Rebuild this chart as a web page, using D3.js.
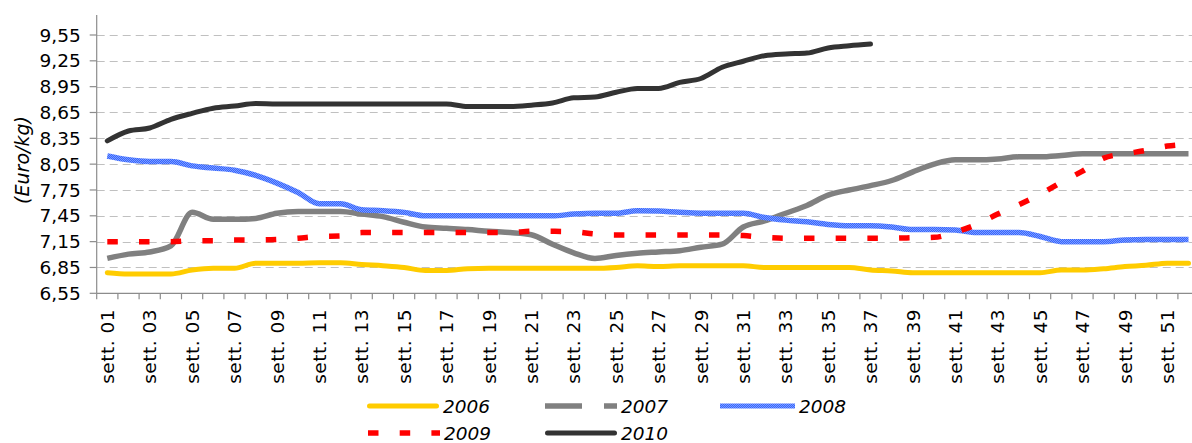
<!DOCTYPE html>
<html><head><meta charset="utf-8">
<script src="https://cdn.jsdelivr.net/npm/d3@7"></script>
<style>body{margin:0;background:#fff;overflow:hidden}svg{display:block}</style>
</head><body><svg id="c" width="1192" height="443"></svg>
<script>
const weeks = ["sett. 01","sett. 02","sett. 03","sett. 04","sett. 05","sett. 06","sett. 07","sett. 08","sett. 09","sett. 10",
"sett. 11","sett. 12","sett. 13","sett. 14","sett. 15","sett. 16","sett. 17","sett. 18","sett. 19","sett. 20",
"sett. 21","sett. 22","sett. 23","sett. 24","sett. 25","sett. 26","sett. 27","sett. 28","sett. 29","sett. 30",
"sett. 31","sett. 32","sett. 33","sett. 34","sett. 35","sett. 36","sett. 37","sett. 38","sett. 39","sett. 40",
"sett. 41","sett. 42","sett. 43","sett. 44","sett. 45","sett. 46","sett. 47","sett. 48","sett. 49","sett. 50",
"sett. 51","sett. 52"];
const labelWeeks = ["sett. 01","sett. 03","sett. 05","sett. 07","sett. 09","sett. 11","sett. 13","sett. 15","sett. 17","sett. 19",
"sett. 21","sett. 23","sett. 25","sett. 27","sett. 29","sett. 31","sett. 33","sett. 35","sett. 37","sett. 39",
"sett. 41","sett. 43","sett. 45","sett. 47","sett. 49","sett. 51"];
const yTicks = [6.55, 6.85, 7.15, 7.45, 7.75, 8.05, 8.35, 8.65, 8.95, 9.25, 9.55];
const yTickLabels = ["6,55","6,85","7,15","7,45","7,75","8,05","8,35","8,65","8,95","9,25","9,55"];
const yTitle = "(Euro/kg)";

const v2006 = [6.79,6.775,6.775,6.775,6.82,6.84,6.84,6.90,6.90,6.90,
6.905,6.905,6.885,6.87,6.85,6.815,6.815,6.835,6.84,6.84,6.84,6.84,6.84,6.84,
6.85,6.87,6.86,6.87,6.87,6.87,6.87,6.85,6.85,6.85,6.85,6.85,6.82,6.81,
6.79,6.79,6.79,6.79,6.79,6.79,6.79,6.82,6.82,6.835,6.86,6.875,6.90,6.90];
const v2007 = [6.955,7.005,7.03,7.10,7.49,7.41,7.41,7.42,7.48,7.50,
7.50,7.50,7.47,7.44,7.375,7.32,7.305,7.29,7.27,7.255,7.23,7.12,7.02,6.955,
6.99,7.015,7.03,7.045,7.085,7.12,7.32,7.39,7.48,7.57,7.69,7.75,7.80,7.86,
7.96,8.05,8.10,8.10,8.11,8.135,8.135,8.15,8.17,8.17,8.17,8.17,8.17,8.17];
const v2008 = [8.145,8.10,8.08,8.08,8.03,8.005,7.98,7.92,7.83,7.72,
7.59,7.59,7.52,7.51,7.49,7.45,7.45,7.45,7.45,7.45,7.45,7.45,7.47,7.48,
7.48,7.51,7.505,7.49,7.48,7.48,7.48,7.43,7.40,7.38,7.35,7.335,7.335,7.32,
7.29,7.29,7.285,7.255,7.255,7.255,7.21,7.15,7.15,7.15,7.17,7.175,7.175,7.175];
const v2009 = [7.15,7.15,7.15,7.15,7.16,7.16,7.17,7.17,7.175,7.19,
7.21,7.215,7.255,7.255,7.255,7.255,7.255,7.255,7.255,7.255,7.27,7.27,7.265,7.24,
7.227,7.227,7.227,7.227,7.227,7.227,7.22,7.20,7.19,7.19,7.19,7.19,7.19,7.19,
7.195,7.20,7.26,7.35,7.47,7.58,7.70,7.84,7.97,8.12,8.17,8.21,8.26,8.28];
const v2010 = [8.32,8.435,8.47,8.57,8.64,8.70,8.725,8.755,8.75,8.75,
8.75,8.75,8.75,8.75,8.75,8.75,8.75,8.72,8.72,8.72,8.735,8.76,8.82,8.83,
8.885,8.93,8.93,9.00,9.045,9.175,9.245,9.31,9.33,9.34,9.40,9.425,9.445,
null,null,null,null,null,null,null,null,null,null,null,null,null,null,null];

const seriesNames = ["2006","2007","2008","2009","2010"];
const seriesValues = [v2006, v2007, v2008, v2009, v2010];

const svg = d3.select("#c");
const defs = svg.append("defs");
const pat = defs.append("pattern").attr("id","chk").attr("width",2).attr("height",2).attr("patternUnits","userSpaceOnUse");
pat.append("rect").attr("width",2).attr("height",2).attr("fill","#3366ff");
pat.append("rect").attr("width",1).attr("height",1).attr("fill","#7f9cff");
pat.append("rect").attr("x",1).attr("y",1).attr("width",1).attr("height",1).attr("fill","#7f9cff");

const styles = {
  "2006": {stroke:"#FFCC00", width:5, cap:"round", dash:null, legendDash:null},
  "2007": {stroke:"#808080", width:5.5, cap:"butt", dash:null, legendDash:"37,22"},
  "2008": {stroke:"url(#chk)", width:5.5, cap:"butt", dash:null, legendDash:null},
  "2009": {stroke:"#FF0000", width:5.5, cap:"butt", dash:"10.5,21.2", legendDash:"10.5,21.2"},
  "2010": {stroke:"#333333", width:5, cap:"round", dash:null, legendDash:null}
};

const left = 96.7, bw = 21.2;
const x = d3.scaleBand().domain(weeks).range([left, left + bw*weeks.length]).paddingInner(0).paddingOuter(0);
const y = d3.scaleLinear().domain([6.55, 9.55]).range([293.3, 35]);
const plotTop = 15;
const font = "'DejaVu Sans', Verdana, sans-serif";

// gridlines
svg.append("g").selectAll("line").data(yTicks.slice(1)).join("line")
  .attr("x1", left).attr("x2", left + bw*weeks.length)
  .attr("y1", d => Math.round(y(d))+0.5).attr("y2", d => Math.round(y(d))+0.5)
  .attr("stroke","#c0c0c0").attr("stroke-width",1).attr("stroke-dasharray","8,5");

// axes
const ax = svg.append("g").attr("stroke","#8c8c8c").attr("stroke-width",1.2);
ax.append("line").attr("x1",left).attr("x2",left).attr("y1",plotTop).attr("y2",y(6.55));
ax.selectAll(".yt").data(yTicks).join("line").attr("class","yt")
  .attr("x1",left-7).attr("x2",left).attr("y1",d=>y(d)).attr("y2",d=>y(d));
ax.append("line").attr("x1",left).attr("x2",left + bw*weeks.length).attr("y1",y(6.55)).attr("y2",y(6.55));
ax.selectAll(".xt").data(weeks.concat([null])).join("line").attr("class","xt")
  .attr("x1",d=> d ? x(d) : x(weeks[weeks.length-1]) + x.bandwidth())
  .attr("x2",d=> d ? x(d) : x(weeks[weeks.length-1]) + x.bandwidth())
  .attr("y1",y(6.55)).attr("y2",y(6.55)+6);

// y tick labels
svg.append("g").selectAll("text").data(yTicks).join("text")
  .attr("x", left-16).attr("y", d=>y(d)).attr("dy","0.36em")
  .attr("text-anchor","end").attr("font-family",font).attr("font-size","18.5px").attr("fill","#000")
  .text((d,i)=>yTickLabels[i]);

// y title
svg.append("text").attr("transform","translate(29,160) rotate(-90)")
  .attr("text-anchor","middle").attr("font-family",font).attr("font-size","19px")
  .attr("font-style","italic").attr("fill","#000").text(yTitle);

// x labels
svg.append("g").selectAll("text").data(labelWeeks).join("text")
  .attr("transform", d => `translate(${x(d)+x.bandwidth()/2},309) rotate(-90)`)
  .attr("dy","0.36em").attr("text-anchor","end")
  .attr("font-family",font).attr("font-size","18.5px").attr("letter-spacing","0.5px").attr("fill","#000")
  .text(d=>d);

// lines
const line = d3.line().defined(d=>d.v!=null).x(d=>x(d.w)+x.bandwidth()/2).y(d=>y(d.v)).curve(d3.curveMonotoneX);
seriesNames.forEach((name,k)=>{
  const st = styles[name];
  const data = weeks.map((w,i)=>({w, v: seriesValues[k][i]}));
  svg.append("path").datum(data).attr("d", line)
    .attr("fill","none").attr("stroke", st.stroke).attr("stroke-width", st.width)
    .attr("stroke-linecap", st.cap).attr("stroke-linejoin","round")
    .attr("stroke-dasharray", st.dash);
});

// legend
const legendPos = {
  "2006": [367, 406], "2007": [545, 406], "2008": [720, 406],
  "2009": [368, 433], "2010": [545, 433]
};
seriesNames.forEach(name=>{
  const st = styles[name];
  const [lx, ly] = legendPos[name];
  const len = name==="2008" ? 75 : 72;
  const cap = st.cap;
  const inset = cap==="round" ? st.width/2 : 0;
  svg.append("line").attr("x1", lx+inset).attr("x2", lx+len-inset).attr("y1", ly).attr("y2", ly)
    .attr("stroke", st.stroke).attr("stroke-width", name==="2008"?4.8:st.width)
    .attr("stroke-linecap", cap).attr("stroke-dasharray", st.legendDash);
  svg.append("text").attr("x", lx+len+4).attr("y", ly).attr("dy","0.36em")
    .attr("font-family",font).attr("font-size","18.5px").attr("font-style","italic").attr("fill","#000")
    .text(name);
});
</script></body></html>
